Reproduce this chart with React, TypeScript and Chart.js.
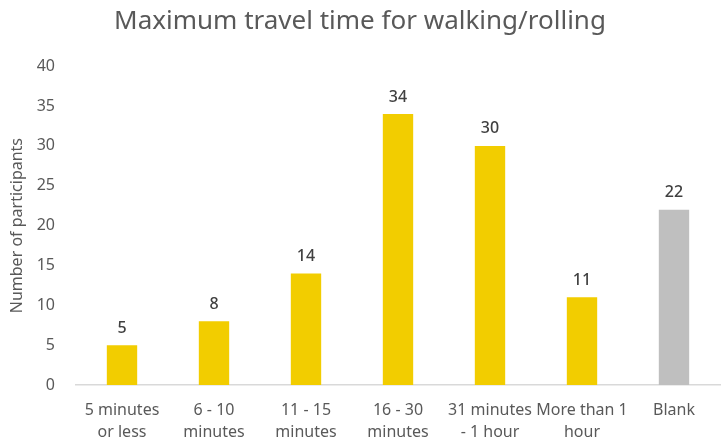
import React, { useEffect, useRef } from "react";
import { Chart, registerables } from "chart.js";

Chart.register(...registerables);

const categories: (string | string[])[] = [
  ["5 minutes", "or less"],
  ["6 - 10", "minutes"],
  ["11 - 15", "minutes"],
  ["16 - 30", "minutes"],
  ["31 minutes", "- 1 hour"],
  ["More than 1", "hour"],
  "Blank",
];
const values: number[] = [5, 8, 14, 34, 30, 11, 22];
const barColors: string[] = ["#f2cd00", "#f2cd00", "#f2cd00", "#f2cd00", "#f2cd00", "#f2cd00", "#bfbfbf"];
const titleText = "Maximum travel time for walking/rolling";
const yAxisTitle = "Number of participants";

const FONT = "'Noto Sans', 'Open Sans', sans-serif";

const valueLabels = {
  id: "valueLabels",
  afterDatasetsDraw(chart: any) {
    const ctx = chart.ctx;
    const meta = chart.getDatasetMeta(0);
    ctx.save();
    ctx.font = `500 16px ${FONT}`;
    ctx.fillStyle = "#404040";
    ctx.textAlign = "center";
    ctx.textBaseline = "bottom";
    meta.data.forEach((bar: any, i: number) => {
      ctx.fillText(String(values[i]), bar.x, bar.y - 9);
    });
    ctx.restore();
  },
};

export default function App() {
  const ref = useRef<HTMLCanvasElement>(null);
  useEffect(() => {
    if (!ref.current) return;
    const chart = new Chart(ref.current, {
      type: "bar",
      data: {
        labels: categories,
        datasets: [
          {
            data: values,
            backgroundColor: barColors,
            categoryPercentage: 1,
            barPercentage: 0.33,
          },
        ],
      },
      options: {
        animation: false,
        responsive: false,
        layout: { padding: { left: 0, right: 1, top: 4, bottom: 0 } },
        plugins: {
          legend: { display: false },
          tooltip: { enabled: false },
          title: {
            display: true,
            text: titleText,
            color: "#595959",
            font: { family: FONT, size: 26, weight: "normal" },
            padding: { top: 2, bottom: 29 },
          },
        },
        scales: {
          x: {
            grid: { display: false },
            border: { display: true, color: "#d9d9d9", width: 1.5 },
            ticks: {
              color: "#595959",
              font: { family: FONT, size: 16, lineHeight: 1.4 },
              maxRotation: 0,
              autoSkip: false,
              padding: 6,
            },
            afterFit: (axis: any) => {
              axis.height = 56;
            },
          },
          y: {
            min: 0,
            max: 40,
            grid: { display: false },
            border: { display: false },
            ticks: {
              stepSize: 5,
              color: "#595959",
              font: { family: FONT, size: 16 },
              padding: 13,
            },
            title: {
              display: true,
              text: yAxisTitle,
              color: "#595959",
              font: { family: FONT, size: 16 },
              padding: { top: 8, bottom: 4 },
            },
            afterFit: (axis: any) => {
              axis.width = 76;
            },
          },
        },
      },
      plugins: [valueLabels],
    });
    return () => chart.destroy();
  }, []);
  return (
    <div style={{ position: "fixed", left: 0, top: 0, width: 721, height: 441, background: "#fff" }}>
      <canvas ref={ref} width={721} height={441} />
    </div>
  );
}
